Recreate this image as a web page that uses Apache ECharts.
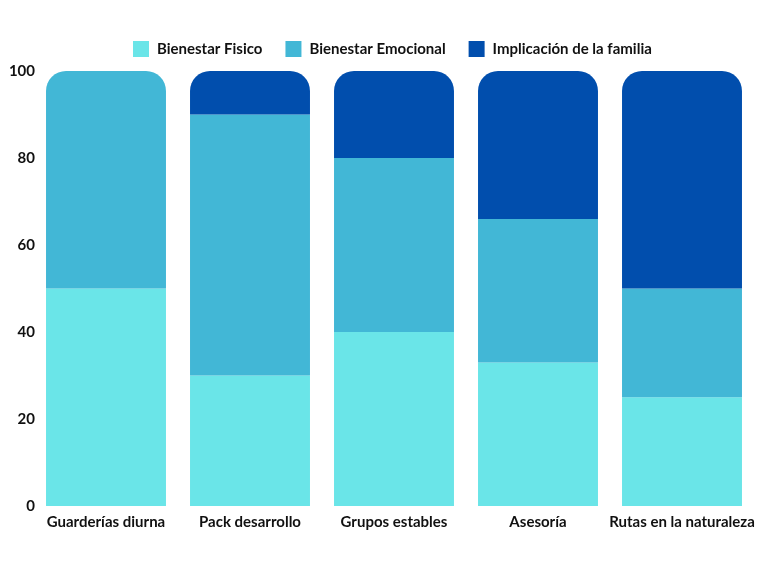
<!DOCTYPE html>
<html>
<head>
<meta charset="utf-8">
<script src="https://cdn.jsdelivr.net/npm/echarts@6/dist/echarts.min.js"></script>
<style>
  html, body { margin: 0; padding: 0; background: #fff; }
  #chart { width: 768px; height: 575px; }
</style>
</head>
<body>
<div id="chart"></div>
<script>
// categorías y datos
var categories = ["Guarderías diurna", "Pack desarrollo", "Grupos estables", "Asesoría", "Rutas en la naturaleza"];
var fisico = [50, 30, 40, 33, 25];
var emocional = [50, 60, 40, 33, 25];
var familia = [0, 10, 20, 34, 50];
var seriesNames = ["Bienestar Fisico", "Bienestar Emocional", "Implicación de la familia"];
var seriesColors = ["#6ae5e8", "#42b7d6", "#014ead"];
var yTicks = [0, 20, 40, 60, 80, 100];

(function () {
  var myChart = echarts.init(document.getElementById("chart"));
  var all = [fisico, emocional, familia];

  // redondear solo el segmento superior de cada barra
  function buildData(idx) {
    return all[idx].map(function (v, i) {
      var top = -1;
      for (var k = 0; k < all.length; k++) {
        if (all[k][i] > 0) top = k;
      }
      return {
        value: v,
        itemStyle: { borderRadius: top === idx ? [20, 20, 0, 0] : 0 }
      };
    });
  }

  var series = seriesNames.map(function (name, idx) {
    return {
      name: name,
      type: "bar",
      stack: "total",
      barCategoryGap: "16.7%",
      data: buildData(idx),
      itemStyle: { color: seriesColors[idx] }
    };
  });

  var option = {
    color: seriesColors,
    textStyle: { fontFamily: "Lato" },
    legend: {
      top: 36,
      left: 128,
      itemWidth: 16,
      itemHeight: 16,
      itemGap: 23,
      icon: "rect",
      textStyle: {
        color: "#111",
        fontSize: 15,
        fontWeight: "bold",
        fontFamily: "Lato",
        padding: [0, 0, 0, 3]
      }
    },
    grid: {
      left: 34,
      right: 14,
      top: 71,
      bottom: 69,
      outerBoundsMode: "none",
      containLabel: false
    },
    xAxis: {
      type: "category",
      data: categories,
      axisTick: { show: false },
      axisLine: { show: false },
      axisLabel: {
        color: "#111",
        fontSize: 15,
        fontWeight: "bold",
        margin: 9,
        interval: 0
      }
    },
    yAxis: {
      type: "value",
      min: yTicks[0],
      max: yTicks[yTicks.length - 1],
      interval: yTicks[1] - yTicks[0],
      axisLine: { show: false },
      axisTick: { show: false },
      splitLine: { show: false },
      axisLabel: {
        color: "#111",
        fontSize: 15,
        fontWeight: "bold",
        margin: -1
      }
    },
    series: series
  };

  myChart.setOption(option);
  window.addEventListener("resize", function () {
    myChart.resize();
  });
})();
</script>
</body>
</html>
